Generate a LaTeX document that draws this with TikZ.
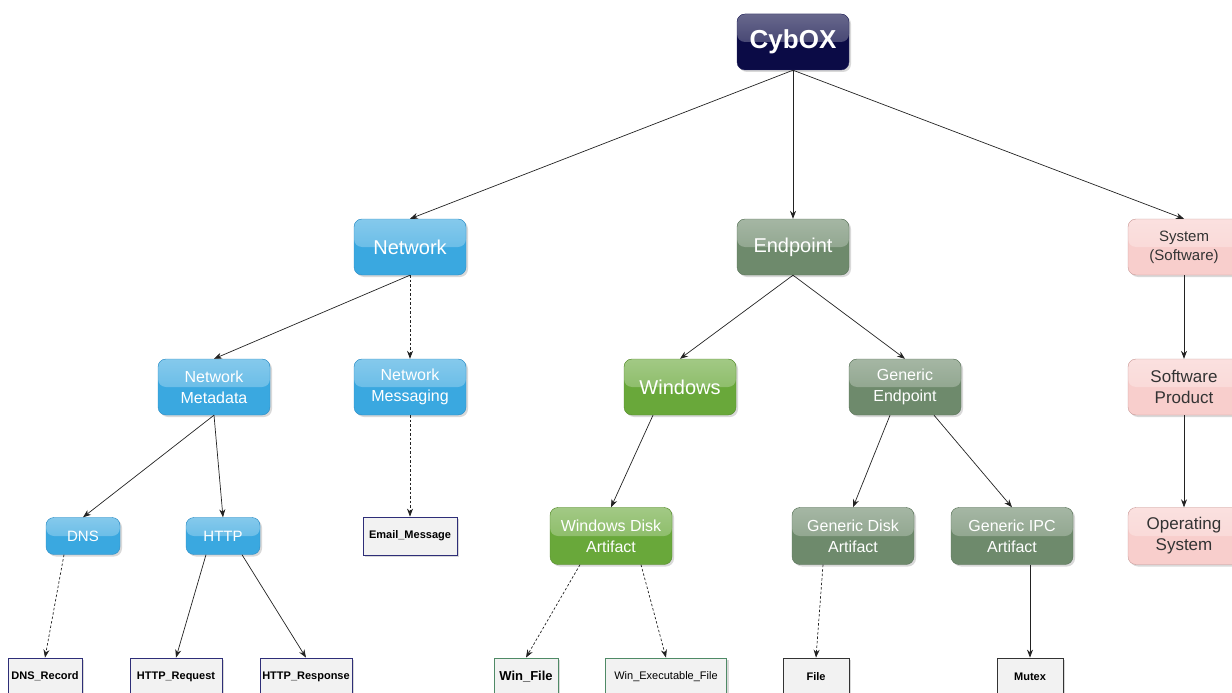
\documentclass[tikz,border=0pt]{standalone}
\usepackage{fontspec}
\setmainfont{Liberation Sans}
\usetikzlibrary{arrows.meta,shadows}

\definecolor{navy}{HTML}{0B0B46}
\definecolor{navyline}{HTML}{2A2A60}
\definecolor{netblue}{HTML}{3AA8E0}
\definecolor{netline}{HTML}{2E8CC4}
\definecolor{endgrey}{HTML}{6E8A6C}
\definecolor{endline}{HTML}{5A735A}
\definecolor{wingreen}{HTML}{69A83A}
\definecolor{winline}{HTML}{558A2C}
\definecolor{sysfill}{HTML}{F8CECC}
\definecolor{sysline}{HTML}{C89A98}
\definecolor{leaffill}{HTML}{F2F2F2}
\definecolor{leafnavy}{HTML}{2E2E78}
\definecolor{leafgreen}{HTML}{4F8A66}
\definecolor{leafgrey}{HTML}{333333}
\definecolor{edge}{HTML}{222222}

\tikzset{
  glossy/.style={rounded corners=8pt, fill=#1,
    drop shadow={opacity=0.3, shadow xshift=2pt, shadow yshift=-2pt},
    path picture={\shade[top color=#1!62!white, bottom color=#1!88!white]
      (path picture bounding box.north west) rectangle (path picture bounding box.east);}},
  big/.style={minimum width=112pt, minimum height=56pt, align=center, inner sep=2pt},
  mid/.style={minimum width=122pt, minimum height=57pt, align=center, inner sep=2pt},
  small/.style={minimum width=74pt, minimum height=37pt, align=center, inner sep=2pt},
  topnode/.style={big, glossy=navy, draw=navyline, text=white, font=\fontsize{26}{28}\selectfont\bfseries},
  netnode/.style={glossy=netblue, draw=netline, text=white},
  endnode/.style={glossy=endgrey, draw=endline, text=white},
  winnode/.style={glossy=wingreen, draw=winline, text=white},
  sysnode/.style={big, glossy=sysfill, draw=sysline, text=black!80},
  leaf/.style={draw=#1, fill=leaffill, line width=0.8pt, minimum height=37pt, inner sep=2pt,
    drop shadow={opacity=0.3, shadow xshift=2pt, shadow yshift=-2pt},
    font=\fontsize{11}{13}\selectfont\bfseries},
  arr/.style={draw=edge, line width=0.7pt, -{Stealth[length=8pt,width=6pt]}},
  darr/.style={arr, dash pattern=on 2.5pt off 2pt}
}

\begin{document}
\begin{tikzpicture}[x=1pt,y=-1pt]
\useasboundingbox (0,0) rectangle (1232,693);

% top level
\node[topnode] (cybox) at (793,42) {CybOX};

% second level
\node[big, netnode, font=\fontsize{20}{22}\selectfont] (network) at (410,247) {Network};
\node[big, endnode, font=\fontsize{20}{22}\selectfont] (endpoint) at (793,247) {Endpoint};
\node[sysnode, font=\fontsize{15}{19}\selectfont] (system) at (1184,247) {System\\(Software)};

% third level
\node[big, netnode, font=\fontsize{16}{21}\selectfont] (netmeta) at (214,387) {Network\\Metadata};
\node[big, netnode, font=\fontsize{16}{21}\selectfont] (netmsg) at (410,387) {Network\\Messaging};
\node[big, winnode, font=\fontsize{20}{22}\selectfont] (windows) at (680,387) {Windows};
\node[big, endnode, font=\fontsize{16}{21}\selectfont] (genend) at (905,387) {Generic\\Endpoint};
\node[sysnode, font=\fontsize{17}{21}\selectfont] (swprod) at (1184,387) {Software\\Product};

% fourth level
\node[small, netnode, font=\fontsize{15}{17}\selectfont] (dns) at (83,536) {DNS};
\node[small, netnode, font=\fontsize{15}{17}\selectfont] (http) at (223,536) {HTTP};
\node[leaf=leafnavy, minimum width=94pt, minimum height=38pt] (email) at (410,536) {Email\_Message};
\node[mid, winnode, font=\fontsize{16}{21}\selectfont] (wda) at (611,536) {Windows Disk\\Artifact};
\node[mid, endnode, font=\fontsize{16}{21}\selectfont] (gda) at (853,536) {Generic Disk\\Artifact};
\node[mid, endnode, font=\fontsize{16}{21}\selectfont] (gipc) at (1012,536) {Generic IPC\\Artifact};
\node[sysnode, minimum height=57pt, font=\fontsize{17}{21}\selectfont] (os) at (1184,536) {Operating\\System};

% leaves
\node[leaf=leafnavy, minimum width=74pt] (dnsrec) at (45,676.5) {DNS\_Record};
\node[leaf=leafnavy, minimum width=92pt] (httpreq) at (176,676.5) {HTTP\_Request};
\node[leaf=leafnavy, minimum width=92pt] (httpres) at (306,676.5) {HTTP\_Response};
\node[leaf=leafgreen, minimum width=64pt, font=\fontsize{13}{15}\selectfont\bfseries] (winfile) at (526,676.5) {Win\_File};
\node[leaf=leafgreen, minimum width=121pt, font=\fontsize{11}{13}\selectfont] (winexe) at (666,676.5) {Win\_Executable\_File};
\node[leaf=leafgrey, minimum width=66pt] (file) at (816,676.5) {File};
\node[leaf=leafgrey, minimum width=66pt] (mutex) at (1030,676.5) {Mutex};

% connectors
\draw[arr] (cybox.south) -- (network.north);
\draw[arr] (cybox.south) -- (endpoint.north);
\draw[arr] (cybox.south) -- (system.north);

\draw[arr] (network.south) -- (netmeta.north);
\draw[darr] (network.south) -- (netmsg.north);
\draw[arr] (endpoint.south) -- (windows.north);
\draw[arr] (endpoint.south) -- (genend.north);
\draw[arr] (system.south) -- (swprod.north);

\draw[arr] (netmeta.south) -- (dns.north);
\draw[arr] (netmeta.south) -- (http.north);
\draw[darr] (netmsg.south) -- (email.north);
\draw[arr] ([xshift=-27pt]windows.south) -- (wda.north);
\draw[arr] ([xshift=-15pt]genend.south) -- (gda.north);
\draw[arr] ([xshift=29pt]genend.south) -- (gipc.north);
\draw[arr] (swprod.south) -- (os.north);

\draw[darr] ([xshift=-19pt]dns.south) -- (dnsrec.north);
\draw[arr] ([xshift=-17pt]http.south) -- (httpreq.north);
\draw[arr] ([xshift=19pt]http.south) -- (httpres.north);
\draw[darr] ([xshift=-31pt]wda.south) -- (winfile.north);
\draw[darr] ([xshift=30pt]wda.south) -- (winexe.north);
\draw[darr] ([xshift=-30pt]gda.south) -- (file.north);
\draw[arr] ([xshift=18pt]gipc.south) -- (mutex.north);
\end{tikzpicture}
\end{document}
